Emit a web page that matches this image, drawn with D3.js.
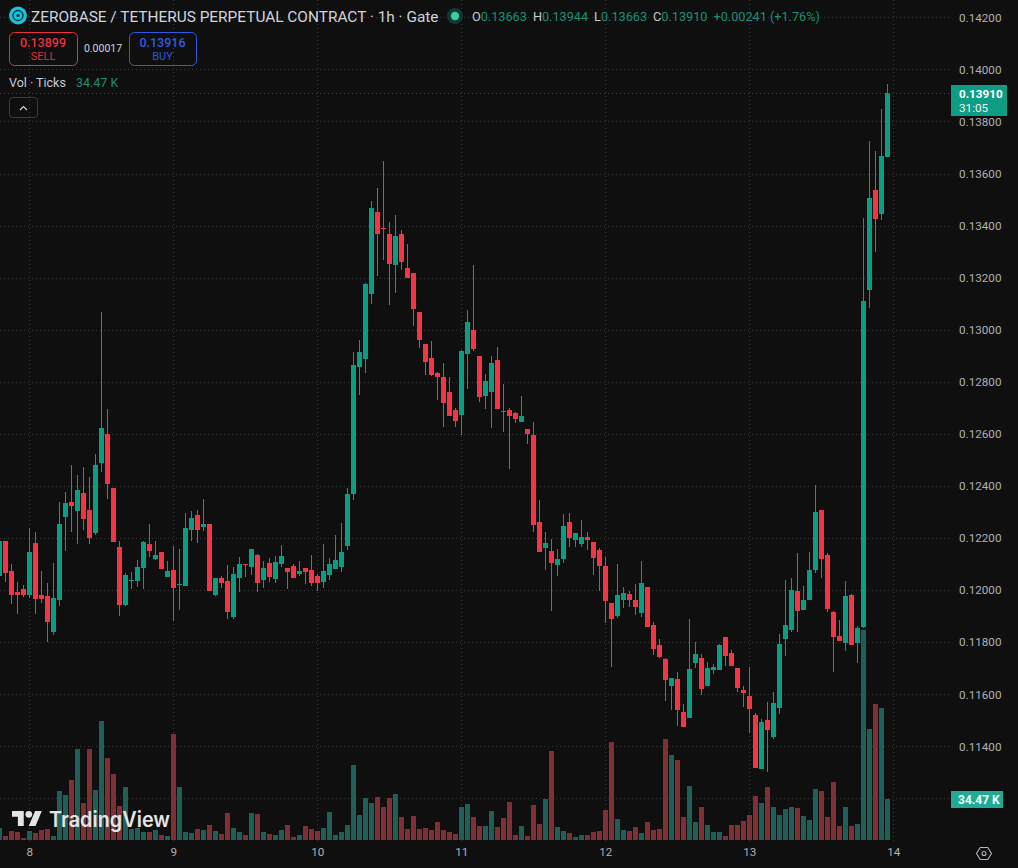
<!DOCTYPE html>
<html>
<head>
<meta charset="utf-8">
<title>ZEROBASE / TETHERUS 1h</title>
<script src="https://cdn.jsdelivr.net/npm/d3@7/dist/d3.min.js"></script>
<style>
html, body { margin: 0; padding: 0; background: #0f0f0f; overflow: hidden; }
svg { display: block; font-family: Roboto, "Noto Sans", sans-serif; }
.axis path, .axis line { display: none; }
.axis text { fill: #aeb0b6; font-size: 11.7px; font-family: Roboto, sans-serif; }
</style>
</head>
<body>
<svg id="chart" width="1018" height="868"></svg>
<script>
// Hourly candles, first bar is five hours before the "8" day mark.
const firstHour = -5;
const opens = [
0.12056,0.12189,0.12074,0.11994,0.12004,0.11982,0.12180,0.11982,0.11978,0.11840,
0.11963,0.12282,0.12339,0.12305,0.12374,0.12308,0.12220,0.12489,0.12600,0.12393,
0.12166,0.11944,0.12036,0.12036,0.12086,0.12178,0.12120,0.12147,0.12051,0.12078,
0.12020,0.12017,0.12232,0.12289,0.12243,0.12255,0.11982,0.12047,0.12036,0.11898,
0.12047,0.12101,0.12090,0.12136,0.12040,0.12105,0.12044,0.12101,0.12086,0.12093,
0.12063,0.12086,0.12078,0.12055,0.12032,0.12059,0.12082,0.12090,0.12170,0.12370,
0.12858,0.12888,0.13138,0.13453,0.13391,0.13368,0.13249,0.13368,0.13238,0.13217,
0.13069,0.12946,0.12892,0.12835,0.12819,0.12762,0.12692,0.12673,0.12908,0.13000,
0.12900,0.12746,0.12762,0.12884,0.12689,0.12692,0.12681,0.12646,0.12620,0.12596,
0.12262,0.12163,0.12151,0.12097,0.12120,0.12262,0.12193,0.12178,0.12205,0.12186,
0.12155,0.12093,0.11951,0.11901,0.11963,0.11986,0.11963,0.11913,0.12013,0.11867,
0.11790,0.11736,0.11633,0.11660,0.11533,0.11510,0.11721,0.11740,0.11633,0.11694,
0.11694,0.11821,0.11759,0.11702,0.11617,0.11594,0.11521,0.11314,0.11502,0.11437,
0.11548,0.11813,0.11848,0.11997,0.11924,0.11963,0.12078,0.12308,0.12136,0.11917,
0.11825,0.11798,0.11982,0.11798,0.11859,0.13153,0.13537,0.13445,0.13663
];
const highs = [
0.12200,0.12189,0.12101,0.12032,0.12019,0.12238,0.12224,0.12074,0.12028,0.12105,
0.12339,0.12376,0.12481,0.12443,0.12474,0.12435,0.12524,0.13069,0.12696,0.12393,
0.12189,0.12067,0.12070,0.12116,0.12189,0.12255,0.12189,0.12147,0.12113,0.12170,
0.12159,0.12297,0.12305,0.12308,0.12351,0.12255,0.12047,0.12055,0.12097,0.12090,
0.12128,0.12101,0.12159,0.12140,0.12113,0.12124,0.12132,0.12174,0.12086,0.12101,
0.12113,0.12086,0.12136,0.12063,0.12178,0.12124,0.12212,0.12259,0.12393,0.12915,
0.12961,0.13179,0.13495,0.13545,0.13649,0.13414,0.13441,0.13384,0.13330,0.13217,
0.13069,0.12946,0.12957,0.12838,0.12873,0.12819,0.12700,0.12923,0.13076,0.13249,
0.12900,0.12831,0.12900,0.12934,0.12792,0.12700,0.12685,0.12746,0.12620,0.12646,
0.12347,0.12224,0.12197,0.12159,0.12293,0.12297,0.12220,0.12270,0.12224,0.12186,
0.12163,0.12128,0.11951,0.12101,0.12013,0.11997,0.12024,0.12113,0.12013,0.11878,
0.11813,0.11740,0.11663,0.11686,0.11564,0.11890,0.11802,0.11756,0.11725,0.11717,
0.11794,0.11821,0.11771,0.11702,0.11633,0.11706,0.11529,0.11506,0.11571,0.11610,
0.11832,0.12040,0.12047,0.12143,0.12017,0.12147,0.12404,0.12308,0.12143,0.11921,
0.11886,0.12036,0.11986,0.11863,0.13430,0.13725,0.13687,0.13848,0.13944
];
const lows = [
0.12033,0.12031,0.11948,0.11909,0.11973,0.11971,0.11909,0.11951,0.11802,0.11828,
0.11940,0.12151,0.12224,0.12178,0.12232,0.12178,0.12212,0.12454,0.12351,0.12186,
0.11901,0.11940,0.12005,0.12013,0.12005,0.12128,0.12116,0.12082,0.12051,0.11882,
0.11924,0.12017,0.12189,0.12182,0.12228,0.11997,0.11978,0.12009,0.11890,0.11890,
0.11994,0.12051,0.12059,0.11994,0.12009,0.12032,0.12028,0.12090,0.12005,0.12047,
0.12055,0.12024,0.12017,0.11997,0.12009,0.12040,0.12082,0.12070,0.12155,0.12347,
0.12750,0.12835,0.13100,0.13207,0.13268,0.13096,0.13142,0.13230,0.13199,0.13015,
0.12931,0.12827,0.12823,0.12731,0.12627,0.12669,0.12627,0.12596,0.12773,0.12919,
0.12723,0.12696,0.12623,0.12696,0.12608,0.12466,0.12643,0.12646,0.12562,0.12224,
0.12147,0.12078,0.11921,0.12055,0.12105,0.12166,0.12166,0.12166,0.12155,0.12059,
0.11997,0.11875,0.11706,0.11894,0.11932,0.11936,0.11905,0.11898,0.11859,0.11752,
0.11740,0.11575,0.11540,0.11479,0.11475,0.11510,0.11702,0.11598,0.11633,0.11679,
0.11694,0.11709,0.11709,0.11610,0.11552,0.11452,0.11318,0.11314,0.11302,0.11429,
0.11525,0.11748,0.11840,0.11840,0.11924,0.11963,0.12067,0.12047,0.11917,0.11686,
0.11805,0.11767,0.11790,0.11721,0.11855,0.13084,0.13300,0.13422,0.13663
];
const closes = [
0.12187,0.12067,0.11982,0.11982,0.11982,0.12147,0.11967,0.11967,0.11878,0.11971,
0.12255,0.12335,0.12324,0.12385,0.12274,0.12201,0.12481,0.12623,0.12408,0.12186,
0.11944,0.12059,0.12040,0.12090,0.12186,0.12151,0.12136,0.12082,0.12074,0.12009,
0.12024,0.12239,0.12278,0.12232,0.12255,0.11997,0.12047,0.12028,0.11917,0.12063,
0.12101,0.12097,0.12159,0.12028,0.12086,0.12051,0.12109,0.12132,0.12070,0.12047,
0.12074,0.12070,0.12028,0.12028,0.12074,0.12101,0.12116,0.12147,0.12370,0.12865,
0.12915,0.13176,0.13468,0.13368,0.13388,0.13253,0.13361,0.13261,0.13199,0.13080,
0.12961,0.12877,0.12827,0.12819,0.12719,0.12669,0.12650,0.12919,0.13030,0.12927,
0.12742,0.12804,0.12873,0.12696,0.12685,0.12669,0.12658,0.12669,0.12600,0.12251,
0.12147,0.12182,0.12105,0.12120,0.12247,0.12201,0.12220,0.12205,0.12193,0.12124,
0.12093,0.11959,0.11890,0.11982,0.11990,0.11963,0.11936,0.12028,0.11859,0.11775,
0.11744,0.11656,0.11663,0.11540,0.11475,0.11698,0.11756,0.11621,0.11702,0.11706,
0.11790,0.11748,0.11709,0.11625,0.11606,0.11544,0.11318,0.11494,0.11464,0.11567,
0.11794,0.11867,0.12001,0.11921,0.11963,0.12078,0.12301,0.12120,0.11928,0.11821,
0.11805,0.11978,0.11790,0.11855,0.13111,0.13506,0.13426,0.13667,0.13910
];
// Tick counts per hour, in thousands.
const volumes = [
10.1,3.4,7.6,6.7,1.7,7.6,5.9,8.4,9.2,3.4,
41.2,37.8,50.4,76.4,31.1,76.4,42,100,68.9,55.4,
28.6,44.5,9.2,10.1,6.7,6.7,8.4,4.2,3.4,89,
44.5,6.7,5.9,9.2,8.4,12.6,7.6,5,22.7,10.1,
6.7,4.2,22.7,21.8,6.7,5,4.2,8.4,12.6,2.5,
4.2,11.8,9.2,7.6,10.1,23.5,4.2,6.7,12.6,63,
21,35.3,31.1,36.1,27.7,35.3,38.6,19.3,9.2,20.2,
9.2,10.1,8.4,15.1,8.4,6.7,5,27.7,30.2,19.3,
11.8,11.8,24.4,10.9,18.5,31.9,4.2,11.8,3.4,29.4,
13.4,34.4,74.8,10.9,7.6,5.9,2.5,4.2,4.2,6.7,
7.6,25.2,82.3,17.6,8.4,7.6,10.9,5.9,15.1,8.4,
9.2,84.8,71.4,67.2,19.3,45.4,15.1,27.7,12.6,6.7,
6.7,3.4,12.6,12.6,16,21,37,31.1,44.5,27.7,
21,26,27.7,26.9,20.2,16.8,42.8,41.2,19.3,48.7,
11.8,27.7,11.8,13.4,176.4,93.2,114.2,110.9,34.47
];
const priceTicks = [0.142,0.14,0.138,0.136,0.134,0.132,0.13,0.128,0.126,0.124,0.122,0.12,0.118,0.116,0.114];
const gridOnlyPrice = 0.112;
const dayHours = [0,24,48,72,96,120,144];
const dayLabels = ["8","9","10","11","12","13","14"];
const bid = "0.13899", ask = "0.13916", spread = "0.00017";
const lastVolumeLabel = "34.47 K";
const countdown = "31:05";
const legendValues = [["O","0.13663"],["H","0.13944"],["L","0.13663"],["C","0.13910"]];
const legendChange = "+0.00241 (+1.76%)";

const bars = opens.map((o, i) => ({
  hour: firstHour + i, open: o, high: highs[i], low: lows[i], close: closes[i], volume: volumes[i]
}));

const UP = "#0b9c82", DOWN = "#f23645", UP_VOL = "#205f58", DOWN_VOL = "#7f3034";
const GRID = "#383838", DOT = "1 3";

const svg = d3.select("#chart");
const W = 1018, H = 868, PLOT_R = 950, VOL_BASE = 840;

const x = d3.scaleLinear().domain([0, 144]).range([29.3, 893.3]);
const y = d3.scaleLinear().domain([0.142, 0.114]).range([17.3, 746.4]);
const vy = d3.scaleLinear().domain([0, 34.47]).range([VOL_BASE, 799]);

svg.append("rect").attr("width", W).attr("height", H).attr("fill", "#0f0f0f");

// Dotted grid
const grid = svg.append("g").attr("shape-rendering", "crispEdges")
  .attr("stroke", GRID).attr("stroke-dasharray", DOT);
grid.selectAll("line.h").data([...priceTicks, gridOnlyPrice]).join("line").attr("class", "h")
  .attr("x1", 0).attr("x2", PLOT_R)
  .attr("y1", d => Math.round(y(d)) + 0.5).attr("y2", d => Math.round(y(d)) + 0.5);
grid.selectAll("line.v").data(dayHours).join("line").attr("class", "v")
  .attr("x1", d => Math.floor(x(d)) + 0.5).attr("x2", d => Math.floor(x(d)) + 0.5)
  .attr("y1", 0).attr("y2", VOL_BASE + 2);

// Volume histogram sits under the candles
svg.append("g").attr("shape-rendering", "crispEdges").selectAll("rect").data(bars).join("rect")
  .attr("x", d => Math.round(x(d.hour) - 2.5))
  .attr("width", 5)
  .attr("y", d => vy(d.volume))
  .attr("height", d => VOL_BASE - vy(d.volume))
  .attr("fill", d => d.close >= d.open ? UP_VOL : DOWN_VOL);

// Candles: wick first, then body
const candle = svg.append("g").attr("shape-rendering", "crispEdges")
  .selectAll("g").data(bars).join("g")
  .attr("fill", d => d.close >= d.open ? UP : DOWN);
candle.append("rect")
  .attr("x", d => Math.floor(x(d.hour)))
  .attr("width", 1)
  .attr("y", d => y(d.high))
  .attr("height", d => y(d.low) - y(d.high));
candle.append("rect")
  .attr("x", d => Math.round(x(d.hour) - 2.5))
  .attr("width", 5)
  .attr("y", d => y(Math.max(d.open, d.close)))
  .attr("height", d => Math.max(1, Math.abs(y(d.open) - y(d.close))));

// Last price line
const last = bars[bars.length - 1];
svg.append("line").attr("shape-rendering", "crispEdges")
  .attr("x1", 0).attr("x2", PLOT_R)
  .attr("y1", Math.round(y(last.close)) + 0.5).attr("y2", Math.round(y(last.close)) + 0.5)
  .attr("stroke", "#2f4f49").attr("stroke-dasharray", DOT);

// Price axis
svg.append("g").attr("class", "axis")
  .attr("transform", `translate(953,0)`)
  .call(d3.axisRight(y).tickValues(priceTicks).tickSize(0).tickPadding(6).tickFormat(d3.format(".5f")));

// Day axis
svg.append("g").attr("class", "axis")
  .attr("transform", `translate(0,845)`)
  .call(d3.axisBottom(x).tickValues(dayHours).tickSize(0).tickPadding(3)
    .tickFormat((d, i) => dayLabels[i]));

// Current price tag
svg.append("rect").attr("x", 951).attr("y", 85).attr("width", 56).attr("height", 31).attr("fill", "#0f9c85");
svg.append("text").attr("x", 959).attr("y", 97.5).attr("fill", "#fff").attr("font-size", 11.7).attr("font-weight", 700)
  .text(d3.format(".5f")(last.close));
svg.append("text").attr("x", 959).attr("y", 112).attr("fill", "#e8f5f2").attr("font-size", 11.7).text(countdown);

// Current volume tag
svg.append("rect").attr("x", 951).attr("y", 791).attr("width", 52).attr("height", 17).attr("fill", "#22ab94");
svg.append("text").attr("x", 958).attr("y", 804).attr("fill", "#f4fffc").attr("font-size", 12).attr("font-weight", 700)
  .text(lastVolumeLabel);

// Settings hexagon in the corner
svg.append("path").attr("d", d3.line()(d3.range(6).map(i => {
    const a = i * Math.PI / 3;
    return [984 + 7.5 * Math.cos(a), 853.5 + 7 * Math.sin(a)];
  })) + "Z").attr("fill", "none").attr("stroke", "#b2b5be").attr("stroke-width", 1.1);
svg.append("circle").attr("cx", 984).attr("cy", 853.5).attr("r", 2).attr("fill", "none")
  .attr("stroke", "#b2b5be").attr("stroke-width", 1.1);

// Header: symbol badge, title, status dot, OHLC legend
svg.append("circle").attr("cx", 18).attr("cy", 15.5).attr("r", 9).attr("fill", "#17c5dc");
svg.append("circle").attr("cx", 18).attr("cy", 15.5).attr("r", 5).attr("fill", "none").attr("stroke", "#0d3a45").attr("stroke-width", 1.4);
svg.append("circle").attr("cx", 18).attr("cy", 15.5).attr("r", 1.6).attr("fill", "#0d3a45");
svg.append("text").attr("x", 31).attr("y", 21.5).attr("fill", "#d1d4dc").attr("font-size", 15.4)
  .text("ZEROBASE / TETHERUS PERPETUAL CONTRACT · 1h · Gate");
svg.append("circle").attr("cx", 455).attr("cy", 16).attr("r", 8).attr("fill", "#0f3a33");
svg.append("circle").attr("cx", 455).attr("cy", 16).attr("r", 4.2).attr("fill", "#3dc9a8");

const legend = svg.append("text").attr("x", 472).attr("y", 21).attr("font-size", 12.7);
legendValues.forEach(([k, v]) => {
  legend.append("tspan").attr("fill", "#c8cad0").attr("dx", k === "O" ? 0 : 6).text(k);
  legend.append("tspan").attr("fill", "#1c8f76").text(v);
});
legend.append("tspan").attr("fill", "#1c8f76").attr("dx", 6).text(legendChange);

// Sell / buy buttons with the spread between them
function quoteBox(bx, w, color, price, label) {
  svg.append("rect").attr("x", bx + 0.5).attr("y", 32.5).attr("width", w).attr("height", 33).attr("rx", 5)
    .attr("fill", "none").attr("stroke", color);
  svg.append("text").attr("x", bx + w / 2).attr("y", 46.5).attr("text-anchor", "middle")
    .attr("fill", color).attr("font-size", 12.5).attr("font-weight", 500).text(price);
  svg.append("text").attr("x", bx + w / 2).attr("y", 60).attr("text-anchor", "middle")
    .attr("fill", color).attr("font-size", 11).attr("opacity", 0.95).text(label);
}
quoteBox(9, 68, "#e8323f", bid, "SELL");
quoteBox(129, 67, "#2f5be0", ask, "BUY");
svg.append("text").attr("x", 103).attr("y", 52).attr("text-anchor", "middle")
  .attr("fill", "#d1d4dc").attr("font-size", 10.5).text(spread);

// Indicator legend and collapse button
svg.append("text").attr("x", 9).attr("y", 87).attr("fill", "#c8cad0").attr("font-size", 12.5).text("Vol · Ticks");
svg.append("text").attr("x", 76).attr("y", 87).attr("fill", "#1c8f76").attr("font-size", 12.5).text(lastVolumeLabel);
svg.append("rect").attr("x", 9.5).attr("y", 97.5).attr("width", 28).attr("height", 20).attr("rx", 3)
  .attr("fill", "none").attr("stroke", "#3d3d3d");
svg.append("path").attr("d", "M20 110l3.5-3.5 3.5 3.5").attr("fill", "none").attr("stroke", "#d1d4dc").attr("stroke-width", 1.2);

// Watermark
const mark = svg.append("g").attr("transform", "translate(12,807.6) scale(0.84)").attr("fill", "#e4e4e4");
mark.append("path").attr("d", "M14 22H7V11H0V4h14v18zM28 22h-8l7.5-18h8L28 22z");
mark.append("circle").attr("cx", 20).attr("cy", 8).attr("r", 4);
svg.append("text").attr("x", 49).attr("y", 827).attr("fill", "#e4e4e4").attr("font-size", 21)
  .attr("font-weight", 600).attr("font-family", "Inter, Roboto, sans-serif")
  .attr("textLength", 121).attr("lengthAdjust", "spacingAndGlyphs").text("TradingView");
</script>
</body>
</html>
